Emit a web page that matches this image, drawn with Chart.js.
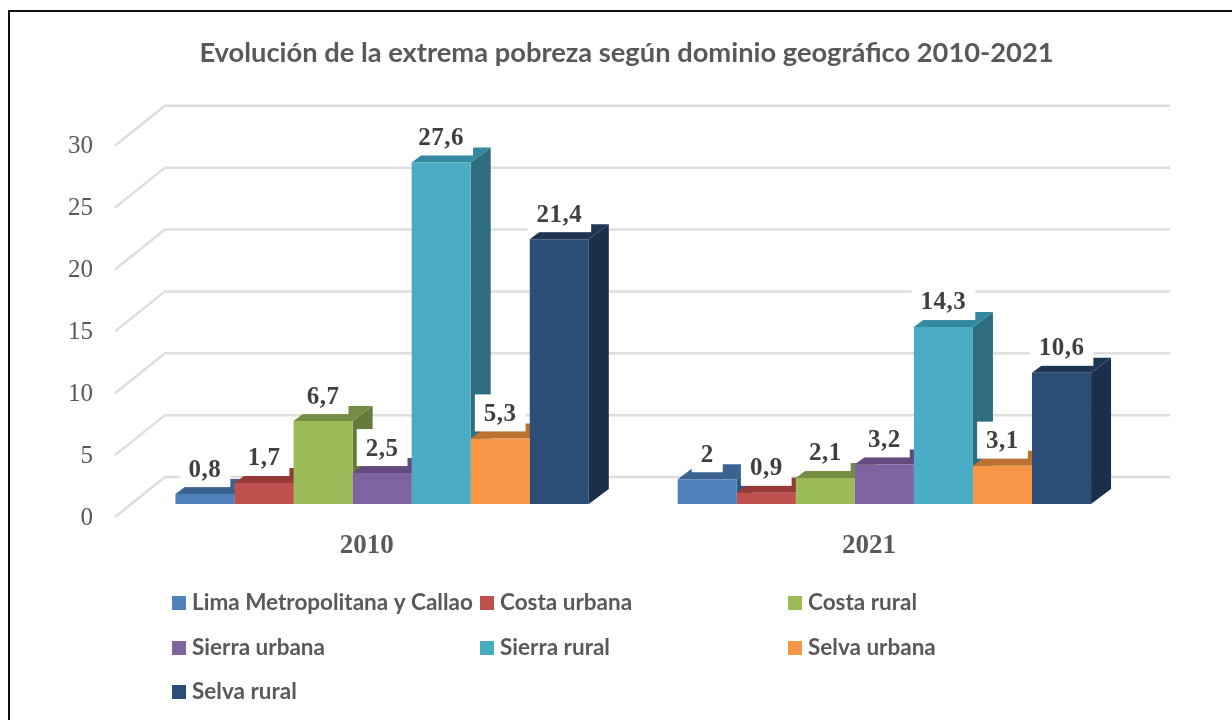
<!DOCTYPE html>
<html>
<head>
<meta charset="utf-8">
<script src="https://cdn.jsdelivr.net/npm/chart.js@4"></script>
<style>
html, body { margin: 0; padding: 0; background: #fff; overflow: hidden; }
#frame { position: absolute; left: 8px; top: 10px; width: 1400px; height: 900px; border: 2px solid #111; box-sizing: content-box; }
canvas { position: absolute; left: 0; top: 0; }
</style>
</head>
<body>
<canvas id="chart" width="1232" height="720"></canvas>
<div id="frame"></div>
<script>
const categories = ["2010", "2021"];
const seriesNames = ["Lima Metropolitana y Callao", "Costa urbana", "Costa rural", "Sierra urbana", "Sierra rural", "Selva urbana", "Selva rural"];
const lima = [0.8, 2];
const costaUrbana = [1.7, 0.9];
const costaRural = [6.7, 2.1];
const sierraUrbana = [2.5, 3.2];
const sierraRural = [27.6, 14.3];
const selvaUrbana = [5.3, 3.1];
const selvaRural = [21.4, 10.6];
const allSeries = [lima, costaUrbana, costaRural, sierraUrbana, sierraRural, selvaUrbana, selvaRural];
const yTicks = [0, 5, 10, 15, 20, 25, 30];
const title = "Evolución de la extrema pobreza según dominio geográfico 2010-2021";

// front, top and side colours of each bar
const frontColors = ["#4F81BD", "#C0504D", "#9BBB59", "#8064A2", "#4BACC6", "#F79646", "#2C4D75"];
const topColors = ["#3B6291", "#963A37", "#758D43", "#644A7F", "#34889F", "#BB7231", "#1E3553"];
const sideColors = ["#335780", "#7F312F", "#667A3A", "#553F6C", "#2E6D7E", "#A06129", "#1B2F4B"];

// legend layout: column x, row y
const legendCols = [172, 480, 788];
const legendRows = [603, 648, 692];

const depthX = 20, depthY = 15;

function fmt(v) {
  return String(v).replace(".", ",");
}

const bars3d = {
  id: "bars3d",
  afterLayout(chart) {
    // el titulo no va centrado sobre el canvas
    chart.titleBlock.left = 117.5;
  },
  beforeDatasetsDraw(chart) {
    const ctx = chart.ctx;
    const yScale = chart.scales.y;
    const left = chart.chartArea.left, right = chart.chartArea.right;

    // paredes y lineas de fondo
    ctx.save();
    ctx.strokeStyle = "#DEDEDE";
    ctx.lineWidth = 2.5;
    yTicks.forEach(v => {
      const y = yScale.getPixelForValue(v);
      ctx.beginPath();
      ctx.moveTo(left - 16, y + 13);
      ctx.lineTo(left + 34, y - 27);
      ctx.lineTo(right + 34.5, y - 27);
      ctx.stroke();
    });

    // caras laterales y superiores, de izquierda a derecha
    categories.forEach((c, i) => {
      allSeries.forEach((s, d) => {
        const bar = chart.getDatasetMeta(d).data[i];
        const x0 = bar.x - bar.width / 2, x1 = bar.x + bar.width / 2;
        ctx.fillStyle = sideColors[d];
        ctx.beginPath();
        ctx.moveTo(x1, bar.base);
        ctx.lineTo(x1 + depthX, bar.base - depthY);
        ctx.lineTo(x1 + depthX, bar.y - depthY);
        ctx.lineTo(x1, bar.y);
        ctx.closePath();
        ctx.fill();
        ctx.fillStyle = topColors[d];
        ctx.beginPath();
        ctx.moveTo(x0, bar.y);
        ctx.lineTo(x0 + depthX, bar.y - depthY);
        ctx.lineTo(x1 + depthX, bar.y - depthY);
        ctx.lineTo(x1, bar.y);
        ctx.closePath();
        ctx.fill();
      });
    });
    ctx.restore();
  },
  afterDatasetsDraw(chart) {
    const ctx = chart.ctx;
    ctx.save();
    ctx.font = "bold 25px 'Liberation Serif'";
    ctx.letterSpacing = "0.5px";
    ctx.textAlign = "center";
    ctx.textBaseline = "middle";
    categories.forEach((c, i) => {
      allSeries.forEach((s, d) => {
        const bar = chart.getDatasetMeta(d).data[i];
        const text = fmt(s[i]);
        const w = ctx.measureText(text).width + 18;
        const cy = bar.y - 25;
        ctx.fillStyle = "#FFFFFF";
        ctx.fillRect(bar.x - w / 2, cy - 19, w, 37);
        ctx.fillStyle = "#404040";
        ctx.fillText(text, bar.x, cy + 1);
      });
    });

    // leyenda
    ctx.letterSpacing = "0px";
    ctx.font = "bold 22.5px Lato";
    ctx.textAlign = "left";
    seriesNames.forEach((name, d) => {
      const x = legendCols[d % 3], y = legendRows[Math.floor(d / 3)];
      ctx.fillStyle = frontColors[d];
      ctx.fillRect(x, y - 7, 14, 14);
      ctx.fillStyle = "#595959";
      ctx.fillText(name, x + 20, y);
    });
    ctx.restore();
  }
};

new Chart(document.getElementById("chart"), {
  type: "bar",
  data: {
    labels: categories,
    datasets: seriesNames.map((name, d) => ({
      label: name,
      data: allSeries[d],
      backgroundColor: frontColors[d],
      barPercentage: 1,
      categoryPercentage: 0.823
    }))
  },
  plugins: [bars3d],
  options: {
    responsive: false,
    animation: false,
    layout: { padding: { left: 0, right: 96.5, top: 37, bottom: 156 } },
    plugins: {
      legend: { display: false },
      tooltip: { enabled: false },
      title: {
        display: true,
        text: title,
        color: "#595959",
        font: { family: "Lato", size: 27.3, weight: "bold", lineHeight: 1.2 },
        padding: { top: 0, bottom: 63 }
      }
    },
    scales: {
      x: {
        grid: { display: false, drawTicks: false },
        border: { display: false },
        afterFit: s => { s.height = 60; },
        ticks: {
          color: "#595959",
          padding: 26,
          labelOffset: -15.5,
          font: { family: "'Liberation Serif'", size: 27, weight: "bold" }
        }
      },
      y: {
        min: 0,
        max: 30,
        grid: { display: false, drawTicks: false },
        border: { display: false },
        afterFit: s => { s.width = 131; },
        ticks: {
          stepSize: 5,
          color: "#595959",
          padding: 38,
          labelOffset: 14,
          font: { family: "'Liberation Serif'", size: 25 }
        }
      }
    }
  }
});
</script>
</body>
</html>
